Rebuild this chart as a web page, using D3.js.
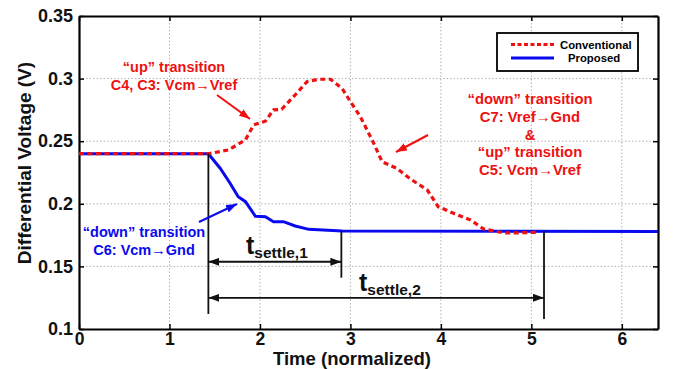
<!DOCTYPE html>
<html lang="en">
<head>
    <meta charset="UTF-8">
    <title>Differential Voltage Settling</title>
    <script src="https://d3js.org/d3.v7.min.js"></script>
    <style>
        body { margin: 0; background: #fff; }
        svg { font-family: "Liberation Sans", Arial, sans-serif; font-weight: bold; }
        .grid line { stroke: #b0b0b0; stroke-width: 1; stroke-dasharray: 1.5 2; }
    </style>
</head>
<body>
    <svg id="chart" width="677" height="369"></svg>

    <script>
        // tick labels
        const xTicks = [0, 1, 2, 3, 4, 5, 6];
        const yTicks = [0.1, 0.15, 0.2, 0.25, 0.3, 0.35];

        // conventional (red dashed)
        const convTime = [0, 1.43, 1.65, 1.84, 1.93, 2.06, 2.15, 2.24, 2.39, 2.52, 2.65, 2.78, 2.91, 3.0, 3.11, 3.26, 3.35, 3.51, 3.66, 3.85, 3.97, 4.14, 4.33, 4.47, 4.69, 4.85, 5.05];
        const convVolt = [0.24, 0.24, 0.243, 0.251, 0.263, 0.266, 0.275, 0.2755, 0.287, 0.2975, 0.2995, 0.2995, 0.292, 0.2816, 0.2696, 0.248, 0.2336, 0.2284, 0.220, 0.211, 0.1977, 0.1924, 0.187, 0.180, 0.1768, 0.1768, 0.1772];

        // proposed (blue)
        const propTime = [0, 1.43, 1.56, 1.67, 1.76, 1.84, 1.95, 2.06, 2.15, 2.26, 2.39, 2.54, 2.91, 6.4];
        const propVolt = [0.24, 0.24, 0.2284, 0.2164, 0.2057, 0.2017, 0.190, 0.1897, 0.1857, 0.1857, 0.1823, 0.1796, 0.1782, 0.1778];

        // settling markers (time)
        const settleStart = 1.43;
        const settleEnds = [2.9, 5.14];

        const width = 677, height = 369;
        const margin = { left: 79, top: 16, right: 19, bottom: 40 };

        const svg = d3.select("#chart");

        const x = d3.scaleLinear().domain([0, 6.4]).range([margin.left, width - margin.right]);
        const y = d3.scaleLinear().domain([0.1, 0.35]).range([height - margin.bottom, margin.top]);

        const defs = svg.append("defs");
        function marker(id, color, w, h, orientStart) {
            defs.append("marker")
                .attr("id", id)
                .attr("viewBox", `0 0 ${w} ${h}`)
                .attr("refX", w).attr("refY", h / 2)
                .attr("markerWidth", w).attr("markerHeight", h)
                .attr("markerUnits", "userSpaceOnUse")
                .attr("orient", orientStart ? "auto-start-reverse" : "auto")
                .append("path")
                .attr("d", `M0,0L${w},${h / 2}L0,${h}Z`)
                .attr("fill", color);
        }
        marker("blk", "#111", 11, 8, true);
        marker("red", "#ee1111", 11, 8, false);
        marker("blu", "#0a0aee", 11, 8, false);

        // grid
        const grid = svg.append("g").attr("class", "grid");
        grid.selectAll(".gx").data(xTicks.slice(1)).join("line")
            .attr("x1", d => x(d)).attr("x2", d => x(d))
            .attr("y1", y.range()[0]).attr("y2", y.range()[1]);
        grid.selectAll(".gy").data(yTicks.slice(1, -1)).join("line")
            .attr("y1", d => y(d)).attr("y2", d => y(d))
            .attr("x1", x.range()[0]).attr("x2", x.range()[1]);

        // axes
        const axBottom = svg.append("g")
            .attr("transform", `translate(0,${y.range()[0]})`)
            .call(d3.axisBottom(x).tickValues(xTicks).tickSizeInner(-5).tickSizeOuter(0).tickPadding(4).tickFormat(d3.format("d")));
        const axLeft = svg.append("g")
            .attr("transform", `translate(${x.range()[0]},0)`)
            .call(d3.axisLeft(y).tickValues(yTicks).tickSizeInner(-5).tickSizeOuter(0).tickPadding(6).tickFormat(d => d));
        const axTop = svg.append("g")
            .attr("transform", `translate(0,${y.range()[1]})`)
            .call(d3.axisTop(x).tickValues(xTicks).tickSizeInner(-5).tickSizeOuter(0).tickFormat(""));
        const axRight = svg.append("g")
            .attr("transform", `translate(${x.range()[1]},0)`)
            .call(d3.axisRight(y).tickValues(yTicks).tickSizeInner(-5).tickSizeOuter(0).tickFormat(""));

        [axBottom, axLeft, axTop, axRight].forEach(g => {
            g.select(".domain").attr("stroke", "#000").attr("stroke-width", 2.2);
            g.selectAll(".tick line").attr("stroke", "#000").attr("stroke-width", 1.5);
            g.selectAll(".tick text").attr("font-size", 18).attr("font-weight", "bold")
                .attr("font-family", '"Liberation Sans", Arial, sans-serif').attr("fill", "#111");
        });
        axBottom.selectAll(".tick text").attr("font-size", 17.5);

        // axis titles
        svg.append("text")
            .attr("x", 352).attr("y", 365)
            .attr("text-anchor", "middle")
            .attr("font-size", 18.5)
            .attr("fill", "#111")
            .text("Time (normalized)");
        svg.append("text")
            .attr("transform", "translate(31,163) rotate(-90)")
            .attr("text-anchor", "middle")
            .attr("font-size", 19)
            .attr("fill", "#111")
            .text("Differential Voltage (V)");

        // lines
        const line = d3.line().x(d => x(d[0])).y(d => y(d[1]));
        const propData = propTime.map((t, i) => [t, propVolt[i]]);
        const convData = convTime.map((t, i) => [t, convVolt[i]]);

        svg.append("path").datum(propData)
            .attr("d", line).attr("fill", "none")
            .attr("stroke", "#0a0aee").attr("stroke-width", 3);
        svg.append("path").datum(convData)
            .attr("d", line).attr("fill", "none")
            .attr("stroke", "#ee1111").attr("stroke-width", 3.2)
            .attr("stroke-dasharray", "5 3.5");

        // settling markers
        const mk = svg.append("g").attr("stroke", "#111").attr("stroke-width", 1.8);
        mk.append("line")
            .attr("x1", x(settleStart)).attr("x2", x(settleStart))
            .attr("y1", y(0.24)).attr("y2", y(0.112));
        mk.append("line")
            .attr("x1", x(settleEnds[0])).attr("x2", x(settleEnds[0]))
            .attr("y1", y(0.178)).attr("y2", y(0.141));
        mk.append("line")
            .attr("x1", x(settleEnds[1])).attr("x2", x(settleEnds[1]))
            .attr("y1", y(0.178)).attr("y2", y(0.108));

        const dimY = [0.1537, 0.1249];
        settleEnds.forEach((e, i) => {
            mk.append("line")
                .attr("x1", x(settleStart)).attr("x2", x(e))
                .attr("y1", y(dimY[i])).attr("y2", y(dimY[i]))
                .attr("marker-start", "url(#blk)").attr("marker-end", "url(#blk)");
            const t = svg.append("text")
                .attr("x", i === 0 ? 246 : 359).attr("y", i === 0 ? 254 : 291)
                .attr("fill", "#111");
            t.append("tspan").attr("font-size", 25).text("t");
            t.append("tspan").attr("font-size", 15.5).attr("dy", 4).text("settle," + (i + 1));
        });

        // annotations
        function block(lines, cx, y0, step, color, size) {
            const t = svg.append("text")
                .attr("text-anchor", "middle")
                .attr("fill", color)
                .attr("font-size", size);
            lines.forEach((s, i) => {
                t.append("tspan").attr("x", cx).attr("y", y0 + i * step).text(s);
            });
        }
        block(["\u201Cup\u201D  transition", "C4, C3: Vcm\u2192Vref"], 174, 72, 18, "#ee1111", 14.5);
        block(["\u201Cdown\u201D  transition", "C7: Vref\u2192Gnd", "&", "\u201Cup\u201D  transition", "C5: Vcm\u2192Vref"], 530, 104, 17.8, "#ee1111", 14.8);
        block(["\u201Cdown\u201D  transition", "C6: Vcm\u2192Gnd"], 144, 237, 18, "#0a0aee", 14.5);

        svg.append("line").attr("x1", 217).attr("y1", 95).attr("x2", 250).attr("y2", 119)
            .attr("stroke", "#ee1111").attr("stroke-width", 2).attr("marker-end", "url(#red)");
        svg.append("line").attr("x1", 428).attr("y1", 135).attr("x2", 396).attr("y2", 152)
            .attr("stroke", "#ee1111").attr("stroke-width", 2).attr("marker-end", "url(#red)");
        svg.append("line").attr("x1", 199).attr("y1", 222).attr("x2", 237).attr("y2", 204)
            .attr("stroke", "#0a0aee").attr("stroke-width", 2).attr("marker-end", "url(#blu)");

        // legend
        const lg = svg.append("g");
        lg.append("rect").attr("x", 497).attr("y", 33).attr("width", 141).attr("height", 38)
            .attr("fill", "#fff").attr("stroke", "#000").attr("stroke-width", 1.8);
        lg.append("line").attr("x1", 511).attr("x2", 554).attr("y1", 44.5).attr("y2", 44.5)
            .attr("stroke", "#ee1111").attr("stroke-width", 3).attr("stroke-dasharray", "4 2.5");
        lg.append("line").attr("x1", 511).attr("x2", 554).attr("y1", 58).attr("y2", 58)
            .attr("stroke", "#0a0aee").attr("stroke-width", 3);
        lg.append("text").attr("x", 560).attr("y", 48.5).attr("font-size", 11.3).text("Conventional");
        lg.append("text").attr("x", 568).attr("y", 62).attr("font-size", 11.3).text("Proposed");
    </script>
</body>
</html>
